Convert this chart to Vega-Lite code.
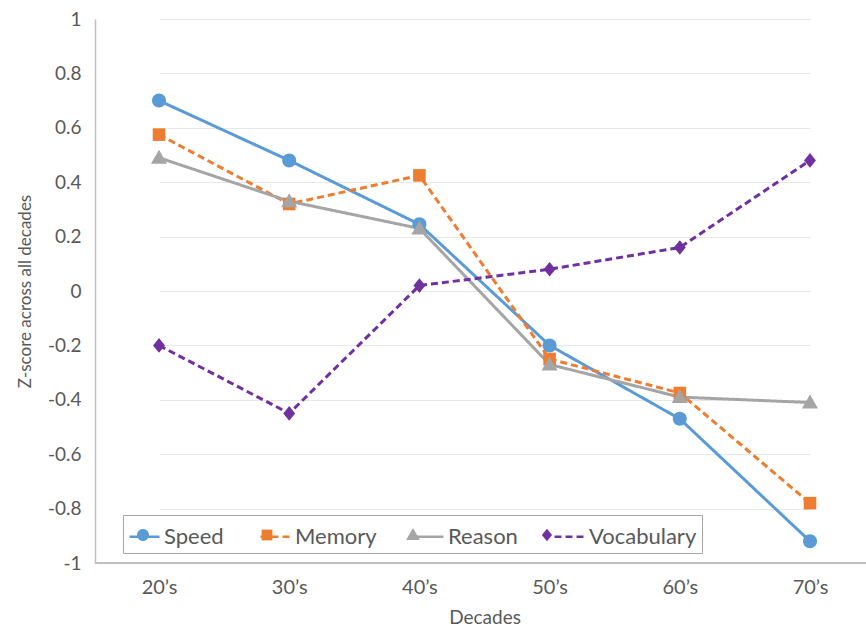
{
  "$schema": "https://vega.github.io/schema/vega-lite/v6.json",
  "width": 771,
  "height": 544,
  "autosize": {"type": "none"},
  "padding": {"left": 95, "top": 19, "right": 0, "bottom": 65},
  "background": "white",
  "config": {
    "font": "Lato",
    "view": {"stroke": null},
    "axis": {"labelFont": "Lato", "titleFont": "Lato", "labelColor": "#595959", "titleColor": "#595959", "titleFontWeight": "normal"}
  },
  "data": {
    "values": [
      {"decade": "20’s", "series": "Speed", "z": 0.70},
      {"decade": "30’s", "series": "Speed", "z": 0.48},
      {"decade": "40’s", "series": "Speed", "z": 0.245},
      {"decade": "50’s", "series": "Speed", "z": -0.20},
      {"decade": "60’s", "series": "Speed", "z": -0.47},
      {"decade": "70’s", "series": "Speed", "z": -0.92},
      {"decade": "20’s", "series": "Memory", "z": 0.575},
      {"decade": "30’s", "series": "Memory", "z": 0.32},
      {"decade": "40’s", "series": "Memory", "z": 0.425},
      {"decade": "50’s", "series": "Memory", "z": -0.25},
      {"decade": "60’s", "series": "Memory", "z": -0.375},
      {"decade": "70’s", "series": "Memory", "z": -0.78},
      {"decade": "20’s", "series": "Reason", "z": 0.49},
      {"decade": "30’s", "series": "Reason", "z": 0.33},
      {"decade": "40’s", "series": "Reason", "z": 0.23},
      {"decade": "50’s", "series": "Reason", "z": -0.27},
      {"decade": "60’s", "series": "Reason", "z": -0.39},
      {"decade": "70’s", "series": "Reason", "z": -0.41},
      {"decade": "20’s", "series": "Vocabulary", "z": -0.20},
      {"decade": "30’s", "series": "Vocabulary", "z": -0.45},
      {"decade": "40’s", "series": "Vocabulary", "z": 0.02},
      {"decade": "50’s", "series": "Vocabulary", "z": 0.08},
      {"decade": "60’s", "series": "Vocabulary", "z": 0.16},
      {"decade": "70’s", "series": "Vocabulary", "z": 0.48}
    ]
  },
  "encoding": {
    "x": {
      "field": "decade", "type": "ordinal", "sort": null,
      "scale": {"type": "point", "range": [64, 715], "padding": 0},
      "axis": {
        "title": "Decades", "titleFontSize": 19, "titlePadding": 11,
        "labelFontSize": 20, "labelPadding": 14, "labelAngle": 0,
        "ticks": false, "grid": false, "domain": false
      }
    },
    "y": {
      "field": "z", "type": "quantitative",
      "scale": {"domain": [-1, 1], "nice": false, "zero": false},
      "axis": {
        "title": "Z-score across all decades", "titleFontSize": 17, "titlePadding": 13,
        "values": [-1, -0.8, -0.6, -0.4, -0.2, 0, 0.2, 0.4, 0.6, 0.8, 1],
        "labelExpr": "replace(format(datum.value, '~g'), '\u2212', '-')",
        "labelFontSize": 19, "labelPadding": 14,
        "ticks": false, "grid": true, "gridColor": "#e8e8e8", "gridWidth": 1.2,
        "domainColor": "#bfbfbf", "domainWidth": 1.5
      }
    }
  },
  "layer": [
    {
      "mark": {"type": "rule", "color": "#bfbfbf", "strokeWidth": 1.5},
      "encoding": {"x": null, "y": {"datum": -1, "type": "quantitative"}}
    },
    {
      "mark": {"type": "line", "strokeWidth": 3},
      "encoding": {
        "color": {"field": "series", "type": "nominal",
          "scale": {"domain": ["Speed", "Memory", "Reason", "Vocabulary"], "range": ["#5B9BD5", "#ED7D31", "#A5A5A5", "#7030A0"]},
          "legend": {
            "title": null, "orient": "none", "legendX": 28, "legendY": 496, "direction": "horizontal",
            "symbolSize": 900, "symbolStrokeWidth": 2.5, "symbolType": "stroke",
            "labelFontSize": 22, "labelColor": "#595959", "labelFont": "Lato", "labelOffset": 3,
            "columnPadding": 31, "strokeColor": "#a6a6a6", "padding": 5
          }},
        "strokeDash": {"field": "series", "type": "nominal",
          "scale": {"domain": ["Speed", "Memory", "Reason", "Vocabulary"], "range": [[1, 0], [7, 4], [1, 0], [7, 4]]},
          "legend": {
            "title": null, "orient": "none", "legendX": 28, "legendY": 496, "direction": "horizontal",
            "symbolSize": 900, "symbolStrokeWidth": 2.5, "symbolType": "stroke",
            "labelFontSize": 22, "labelColor": "#595959", "labelFont": "Lato", "labelOffset": 3,
            "columnPadding": 31, "strokeColor": "#a6a6a6", "padding": 5
          }}
      }
    },
    {
      "mark": {"type": "point", "filled": true, "opacity": 1, "size": 1225},
      "encoding": {
        "color": {"field": "series", "type": "nominal",
          "scale": {"domain": ["Speed", "Memory", "Reason", "Vocabulary"], "range": ["#5B9BD5", "#ED7D31", "#A5A5A5", "#7030A0"]},
          "legend": {
            "title": null, "orient": "none", "legendX": 28, "legendY": 496, "direction": "horizontal",
            "symbolSize": 900, "symbolStrokeWidth": 0,
            "labelFontSize": 22, "labelColor": "#595959", "labelFont": "Lato", "labelOffset": 3, "labelOpacity": 0,
            "columnPadding": 31, "padding": 5
          }},
        "shape": {"field": "series", "type": "nominal",
          "scale": {"domain": ["Speed", "Memory", "Reason", "Vocabulary"],
            "range": [
              "M0.4,0A0.4,0.4,0,1,1,-0.4,0A0.4,0.4,0,1,1,0.4,0Z",
              "M-0.36,-0.36L0.36,-0.36L0.36,0.36L-0.36,0.36Z",
              "M0,-0.46L0.46,0.34L-0.46,0.34Z",
              "M0,-0.42L0.34,0L0,0.42L-0.34,0Z"
            ]},
          "legend": {
            "title": null, "orient": "none", "legendX": 28, "legendY": 496, "direction": "horizontal",
            "symbolSize": 900, "symbolStrokeWidth": 0,
            "labelFontSize": 22, "labelColor": "#595959", "labelFont": "Lato", "labelOffset": 3, "labelOpacity": 0,
            "columnPadding": 31, "padding": 5
          }}
      }
    }
  ],
  "resolve": {"legend": {"color": "independent", "shape": "independent", "strokeDash": "independent"}}
}
